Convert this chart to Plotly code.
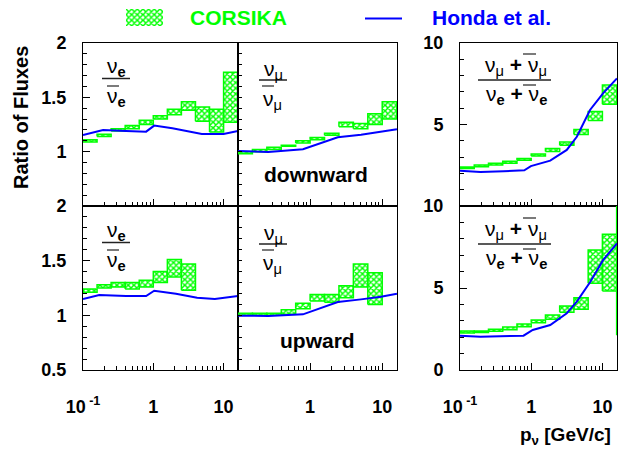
import plotly.graph_objects as go

W, H = 633, 451

# ---------------- data ----------------
bin_edges = [0.1, 0.1585, 0.2512, 0.3981, 0.631, 1.0, 1.585, 2.512, 3.981, 6.31, 10.0, 15.85, 25.12]

# CORSIKA ratio bands (low, high) per momentum bin
nue_down_lo = [1.09, 1.14, 1.19, 1.21, 1.25, 1.30, 1.34, 1.38, 1.28, 1.18, 1.27]
nue_down_hi = [1.11, 1.16, 1.21, 1.24, 1.29, 1.33, 1.39, 1.46, 1.41, 1.39, 1.73]
numu_down_lo = [0.98, 1.00, 1.02, 1.05, 1.08, 1.11, 1.15, 1.23, 1.21, 1.25, 1.30]
numu_down_hi = [1.00, 1.02, 1.04, 1.06, 1.10, 1.13, 1.17, 1.27, 1.26, 1.35, 1.46]
mue_down_lo = [2.30, 2.41, 2.52, 2.62, 2.80, 3.07, 3.35, 3.72, 4.38, 5.24, 6.24]
mue_down_hi = [2.40, 2.51, 2.62, 2.74, 2.92, 3.19, 3.52, 3.93, 4.70, 5.79, 7.42]

nue_up_lo = [1.21, 1.25, 1.26, 1.24, 1.26, 1.30, 1.35, 1.23]
nue_up_hi = [1.24, 1.28, 1.30, 1.30, 1.32, 1.40, 1.51, 1.47]
numu_up_lo = [1.00, 1.00, 1.00, 1.01, 1.06, 1.13, 1.12, 1.16, 1.26, 1.10]
numu_up_hi = [1.02, 1.02, 1.02, 1.05, 1.11, 1.19, 1.19, 1.27, 1.47, 1.39]
mue_up_lo = [2.26, 2.28, 2.36, 2.46, 2.64, 2.88, 3.09, 3.52, 3.70, 5.29, 4.82, 2.13]
mue_up_hi = [2.38, 2.38, 2.48, 2.62, 2.80, 3.05, 3.35, 3.90, 4.41, 7.32, 8.27, 10.0]

# Honda et al. curves
h_nue_down_x = [0.1, 0.14, 0.193, 0.41, 0.79, 1.03, 1.87, 4.9, 10.0, 16.0]
h_nue_down_y = [1.154, 1.175, 1.20, 1.19, 1.184, 1.24, 1.215, 1.163, 1.163, 1.19]
h_nue_up_x = [0.1, 0.17, 0.41, 0.79, 1.03, 2.1, 4.2, 7.5, 16.0]
h_nue_up_y = [1.149, 1.186, 1.177, 1.177, 1.225, 1.198, 1.161, 1.149, 1.177]
h_numu_down_x = [0.1, 0.263, 0.796, 1.43, 2.42, 5.08, 9.6, 16.0]
h_numu_down_y = [1.006, 0.997, 1.022, 1.077, 1.132, 1.156, 1.181, 1.206]
h_numu_up_x = [0.1, 0.263, 0.796, 1.43, 2.42, 5.08, 9.6, 16.0]
h_numu_up_y = [0.997, 0.994, 1.009, 1.07, 1.122, 1.146, 1.17, 1.198]
h_mue_down_x = [0.1, 0.194, 0.41, 0.80, 0.99, 1.85, 3.16, 4.37, 6.7, 10.2, 16.0]
h_mue_down_y = [2.17, 2.09, 2.13, 2.19, 2.45, 2.78, 3.44, 4.25, 5.89, 6.91, 7.83]
h_mue_up_x = [0.1, 0.194, 0.78, 1.05, 1.85, 3.16, 4.37, 6.7, 10.2, 16.0]
h_mue_up_y = [2.09, 2.03, 2.09, 2.44, 2.74, 3.46, 4.17, 5.35, 6.7, 7.72]

x_tickvals = [0.1, 1, 10]
x_minor = [0.2, 0.3, 0.4, 0.5, 0.6, 0.7, 0.8, 0.9, 2, 3, 4, 5, 6, 7, 8, 9]

GREEN = "#00ff00"
BLUE = "#0000ff"
FONT = "Liberation Sans"
PATTERN = dict(shape="x", size=4, solidity=0.6, fgcolor=GREEN, bgcolor="white")


def px_x(p):
    return p / W


def px_y(p):
    return 1 - p / H


def band(lo, hi):
    xs, ys = [], []
    for i, (l, h) in enumerate(zip(lo, hi)):
        a, b = bin_edges[i], bin_edges[i + 1]
        xs += [a, b, b, a, a, None]
        ys += [l, l, h, h, l, None]
    return xs, ys


panels = [
    (1, nue_down_lo, nue_down_hi, h_nue_down_x, h_nue_down_y),
    (2, numu_down_lo, numu_down_hi, h_numu_down_x, h_numu_down_y),
    (3, mue_down_lo, mue_down_hi, h_mue_down_x, h_mue_down_y),
    (4, nue_up_lo, nue_up_hi, h_nue_up_x, h_nue_up_y),
    (5, numu_up_lo, numu_up_hi, h_numu_up_x, h_numu_up_y),
    (6, mue_up_lo, mue_up_hi, h_mue_up_x, h_mue_up_y),
]

fig = go.Figure()
for n, lo, hi, hx, hy in panels:
    sfx = "" if n == 1 else str(n)
    bx, by = band(lo, hi)
    fig.add_trace(go.Scatter(
        x=bx, y=by, mode="lines", fill="toself",
        line=dict(color=GREEN, width=1.5),
        fillcolor="rgba(0,0,0,0)", fillpattern=PATTERN,
        xaxis="x" + sfx, yaxis="y" + sfx, showlegend=False, hoverinfo="skip"))
    fig.add_trace(go.Scatter(
        x=hx, y=hy, mode="lines", line=dict(color=BLUE, width=2),
        xaxis="x" + sfx, yaxis="y" + sfx, showlegend=False, hoverinfo="skip"))

# legend swatch on a hidden helper axis
fig.add_trace(go.Scatter(
    x=[0, 1, 1, 0, 0], y=[0, 0, 1, 1, 0], mode="lines", fill="toself",
    line=dict(color=GREEN, width=0), fillcolor="rgba(0,0,0,0)", fillpattern=PATTERN,
    xaxis="x7", yaxis="y7", showlegend=False, hoverinfo="skip"))

colx = [(83, 238), (238, 397), (460, 617)]
rowy = [(43, 206), (206, 370)]

tickfont = dict(family=FONT, size=18, color="black", weight="bold")

layout = dict(
    width=W, height=H, margin=dict(l=0, r=0, t=0, b=0, autoexpand=False),
    paper_bgcolor="white", plot_bgcolor="white", showlegend=False,
    template="none",
)

for r in range(2):
    for c in range(3):
        n = r * 3 + c + 1
        sfx = "" if n == 1 else str(n)
        xd = [px_x(colx[c][0]), px_x(colx[c][1])]
        yd = [px_y(rowy[r][1]), px_y(rowy[r][0])]
        if r == 1:
            xt = ["10<sup>\u00a0-1</sup>", "1", "10"] if c != 1 else ["", "1", "10"]
        else:
            xt = ["", "", ""]
        layout["xaxis" + sfx] = dict(
            type="log", range=[-1, 1.205], domain=xd, anchor="y" + sfx,
            showline=True, mirror=True, linecolor="black", linewidth=1,
            ticks="inside", ticklen=7, tickwidth=1, tickcolor="black",
            tickvals=x_tickvals, ticktext=xt, showticklabels=(r == 1),
            tickfont=tickfont, ticklabelstandoff=20, automargin=False,
            minor=dict(ticks="inside", ticklen=4, tickwidth=1, tickcolor="black",
                       tickvals=x_minor, showgrid=False),
            showgrid=False, zeroline=False, fixedrange=True)
        if c < 2:
            yv = [0.5, 1, 1.5, 2]
            yt = (["", "1", "1.5", "2"] if r == 0 else ["0.5", "1", "1.5", "2"])
            yr = [0.5, 2]
            md = 0.1
        else:
            yv = [0, 5, 10]
            yt = (["", "5", "10"] if r == 0 else ["0", "5", "10"])
            yr = [0, 10]
            md = 1
        if c == 1:
            yt = [""] * len(yv)
        layout["yaxis" + sfx] = dict(
            range=yr, domain=yd, anchor="x" + sfx,
            showline=True, mirror=True, linecolor="black", linewidth=1,
            ticks="inside", ticklen=7, tickwidth=1, tickcolor="black",
            tickvals=yv, ticktext=yt, showticklabels=(c != 1),
            tickfont=tickfont, ticklabelstandoff=12, automargin=False,
            minor=dict(ticks="inside", ticklen=4, tickwidth=1, tickcolor="black",
                       dtick=md, tick0=0, showgrid=False),
            showgrid=False, zeroline=False, fixedrange=True)

layout["xaxis7"] = dict(domain=[px_x(126), px_x(163)], range=[0, 1], visible=False,
                        anchor="y7", fixedrange=True, automargin=False)
layout["yaxis7"] = dict(domain=[px_y(26), px_y(9)], range=[0, 1], visible=False,
                        anchor="x7", fixedrange=True, automargin=False)

annotations = []
shapes = []


def ann(text, x, y, size, color="black", bold=False, angle=0):
    f = dict(family=FONT, size=size, color=color)
    if bold:
        f["weight"] = "bold"
    annotations.append(dict(text=text, x=px_x(x), y=px_y(y), xref="paper", yref="paper",
                            xanchor="center", yanchor="middle", showarrow=False,
                            font=f, textangle=angle))


def hline(x0, x1, y, width=1.5, color="#222"):
    shapes.append(dict(type="line", xref="paper", yref="paper",
                       x0=px_x(x0), x1=px_x(x1), y0=px_y(y), y1=px_y(y),
                       line=dict(color=color, width=width)))


# legend
ann("CORSIKA", 239, 17, 21, GREEN, True)
ann("Honda et al.", 491, 17, 21, BLUE, True)
hline(365, 402, 18.5, 2, BLUE)

# axis titles
ann("Ratio of Fluxes", 21, 118, 20, bold=True, angle=-90)
ann("p<sub>ν</sub> [GeV/c]", 565, 436, 19, bold=True)

NU = 21
for r, dy in ((0, 0), (1, 164)):
    ann("ν<sub><b>e</b></sub>", 116, 67 + dy, NU)
    hline(102, 130, 78.5 + dy)
    hline(107, 119, 86 + dy, 1.2)
    ann("ν<sub><b>e</b></sub>", 116, 97 + dy, NU)
    ann("ν<sub>μ</sub>", 273, 70 + dy, NU)
    hline(259, 287, 80 + dy)
    hline(262, 274, 86 + dy, 1.2)
    ann("ν<sub>μ</sub>", 272, 100 + dy, NU)
    ann("ν<sub>μ</sub> <b>+</b> ν<sub>μ</sub>", 516, 66 + dy, NU)
    hline(523, 536, 54 + dy, 1.2)
    hline(478, 551, 80 + dy)
    ann("ν<sub><b>e</b></sub> <b>+</b> ν<sub><b>e</b></sub>", 516, 95 + dy, NU)
    hline(523, 536, 85 + dy, 1.2)

ann("downward", 316, 175, 21, bold=True)
ann("upward", 317, 340, 21, bold=True)

layout["annotations"] = annotations
layout["shapes"] = shapes
fig.update_layout(**layout)
fig.write_html("out.html")
